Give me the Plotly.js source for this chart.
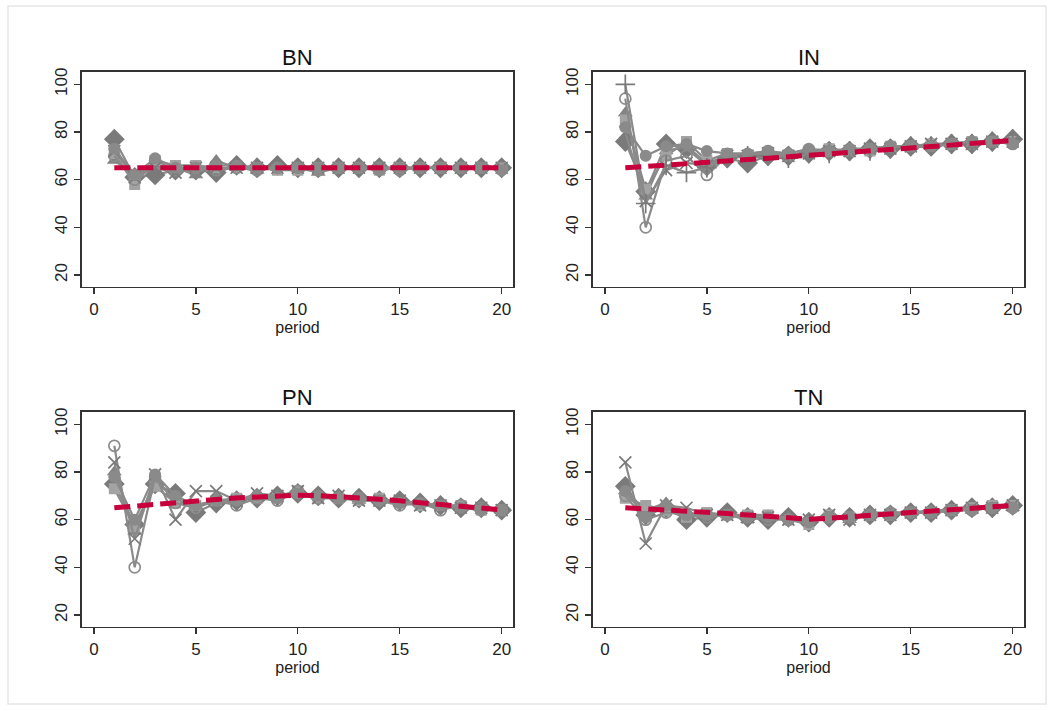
<!DOCTYPE html>
<html>
<head>
<meta charset="utf-8">
<script src="https://cdn.plot.ly/plotly-3.0.1.min.js"></script>
<style>html,body{margin:0;padding:0;background:#fff;}#chart{width:1053px;height:711px;}</style>
</head>
<body>
<div id="chart"></div>
<script>
const periods = [1,2,3,4,5,6,7,8,9,10,11,12,13,14,15,16,17,18,19,20];
const panelNames = ["BN", "IN", "PN", "TN"];

// BN
const bnDiamond  = [77, 61, 62, 64, 64, 63, 66, 65, 66, 65, 65, 65, 65, 65, 65, 65, 65, 65, 65, 65];
const bnTriangle = [68, 62, 66, 65, 62, 68, 65, 64, 65, 65, 63, 65, 65, 65, 65, 65, 65, 65, 65, 65];
const bnSquare   = [71, 58, 68, 66, 66, 65, 65, 65, 64, 64, 65, 65, 65, 64, 65, 65, 65, 65, 65, 65];
const bnCircleO  = [70, 60, 68, 64, 65, 64, 65, 64, 65, 65, 64, 65, 65, 65, 64, 65, 65, 65, 65, 65];
const bnX        = [72, 61, 65, 63, 65, 65, 65, 65, 65, 65, 65, 65, 65, 65, 65, 65, 65, 65, 65, 65];
const bnCircle   = [73, 62, 69, 65, 65, 66, 66, 65, 65, 65, 65, 65, 65, 64, 65, 65, 65, 65, 65, 64];
const bnPred     = [65, 65, 65, 65, 65, 65, 65, 65, 65, 65, 65, 65, 65, 65, 65, 65, 65, 65, 65, 65];

// IN
const inDiamond  = [76, 55, 75, 73, 66, 69, 67, 70, 70, 71, 72, 72, 73, 73, 74, 74, 75, 75, 76, 77];
const inTriangle = [88, 53, 72, 74, 67, 70, 69, 70, 70, 72, 72, 72, 73, 73, 74, 74, 75, 76, 76, 77];
const inSquare   = [85, 56, 70, 76, 68, 71, 70, 71, 70, 72, 73, 72, 72, 74, 74, 75, 75, 76, 76, 76];
const inCircleO  = [94, 40, 68, 70, 62, 70, 70, 72, 70, 72, 72, 72, 73, 74, 74, 74, 75, 75, 76, 75];
const inX        = [80, 51, 64, 67, 66, 70, 70, 71, 70, 71, 72, 72, 73, 73, 74, 75, 75, 75, 76, 76];
const inPlus     = [100, 50, 66, 63, 65, 69, 70, 70, 69, 71, 71, 72, 72, 73, 74, 74, 75, 75, 76, 77];
const inCircle   = [82, 70, 74, 75, 72, 71, 71, 72, 71, 73, 72, 73, 73, 74, 74, 74, 75, 76, 76, 75];
const inPred     = [65.0, 65.5, 66.0, 66.5, 67.2, 67.8, 68.4, 69.0, 69.6, 70.3, 70.9, 71.5, 72.1, 72.7, 73.3, 73.9, 74.5, 75.1, 75.8, 76.5];

// PN
const pnDiamond  = [75, 58, 75, 71, 63, 67, 68, 69, 70, 71, 70, 69, 69, 68, 68, 67, 66, 65, 65, 64];
const pnTriangle = [80, 55, 77, 68, 66, 68, 68, 70, 70, 71, 70, 70, 68, 68, 67, 67, 66, 65, 65, 64];
const pnSquare   = [73, 57, 74, 67, 66, 68, 69, 69, 69, 72, 69, 69, 68, 69, 67, 66, 66, 66, 64, 64];
const pnCircleO  = [91, 40, 78, 67, 65, 68, 66, 69, 68, 72, 69, 69, 69, 68, 66, 67, 64, 66, 65, 64];
const pnX        = [84, 52, 79, 60, 72, 72, 68, 71, 70, 72, 69, 70, 68, 68, 68, 66, 66, 65, 65, 64];
const pnCircle   = [78, 60, 79, 70, 66, 68, 68, 70, 69, 71, 70, 69, 69, 68, 67, 67, 66, 65, 64, 64];
const pnPred     = [65.0, 65.8, 66.5, 67.2, 67.9, 68.5, 69.1, 69.6, 70.0, 70.3, 70.1, 69.7, 69.2, 68.6, 67.9, 67.2, 66.5, 65.7, 64.9, 64.1];

// TN
const tnDiamond  = [74, 62, 65, 60, 61, 63, 61, 60, 61, 59, 61, 61, 62, 62, 63, 63, 64, 65, 65, 66];
const tnTriangle = [72, 64, 67, 63, 62, 62, 60, 61, 61, 59, 62, 60, 63, 63, 63, 64, 64, 64, 65, 65];
const tnSquare   = [69, 66, 64, 61, 63, 62, 62, 62, 60, 58, 62, 61, 62, 62, 63, 63, 64, 65, 66, 66];
const tnCircleO  = [70, 60, 63, 62, 61, 62, 61, 60, 60, 59, 61, 61, 62, 63, 63, 63, 64, 64, 65, 65];
const tnX        = [84, 50, 66, 65, 62, 62, 61, 61, 60, 60, 62, 60, 62, 62, 63, 63, 64, 65, 65, 66];
const tnCircle   = [72, 61, 66, 62, 62, 62, 61, 61, 60, 59, 61, 61, 62, 62, 63, 63, 64, 64, 65, 65];
const tnPred     = [65.0, 64.6, 64.2, 63.7, 63.2, 62.6, 62.0, 61.3, 60.7, 60.2, 60.6, 61.2, 61.8, 62.4, 63.0, 63.6, 64.2, 64.8, 65.4, 66.0];

const xTicks = [0, 5, 10, 15, 20];
const yTicks = [20, 40, 60, 80, 100];

const styles = {
  diamond:  {symbol: "diamond", size: 16, color: "#7a7a7a"},
  triangle: {symbol: "triangle-up", size: 13, color: "#838383"},
  square:   {symbol: "square", size: 11, color: "#a3a3a3"},
  circleO:  {symbol: "circle-open", size: 11, color: "#8c8c8c"},
  x:        {symbol: "x-thin-open", size: 12, color: "#7a7a7a"},
  plus:     {symbol: "cross-thin-open", size: 14, color: "#7a7a7a"},
  circle:   {symbol: "circle", size: 12, color: "#8a8a8a"}
};

const panels = [
  {series: {diamond: bnDiamond, triangle: bnTriangle, square: bnSquare, circleO: bnCircleO, x: bnX, circle: bnCircle}, pred: bnPred},
  {series: {diamond: inDiamond, triangle: inTriangle, square: inSquare, circleO: inCircleO, x: inX, plus: inPlus, circle: inCircle}, pred: inPred},
  {series: {diamond: pnDiamond, triangle: pnTriangle, square: pnSquare, circleO: pnCircleO, x: pnX, circle: pnCircle}, pred: pnPred},
  {series: {diamond: tnDiamond, triangle: tnTriangle, square: tnSquare, circleO: tnCircleO, x: tnX, circle: tnCircle}, pred: tnPred}
];

const W = 1053, H = 711;
const xDomains = [[81.7/W, 513.3/W], [592.7/W, 1024.3/W]];
const yDomains = [[1 - 286.7/H, 1 - 71.7/H], [1 - 626.7/H, 1 - 411.7/H]];

const traces = [];
const layout = {
  width: W, height: H,
  margin: {l: 0, r: 0, t: 0, b: 0},
  paper_bgcolor: "#ffffff",
  plot_bgcolor: "#ffffff",
  showlegend: false,
  font: {family: "Liberation Sans, Arial, sans-serif", color: "#222222", size: 16},
  annotations: [],
  shapes: [{type: "rect", xref: "paper", yref: "paper", x0: 8/W, x1: 1046/W, y0: 1 - 704/H, y1: 1 - 6/H,
            line: {color: "#e6e6e6", width: 1.5}, layer: "below"}]
};

panels.forEach((p, i) => {
  const n = i + 1;
  const xa = n === 1 ? "x" : "x" + n;
  const ya = n === 1 ? "y" : "y" + n;
  const col = i % 2, row = Math.floor(i / 2);
  Object.keys(p.series).forEach(k => {
    const s = styles[k];
    const open = k === "circleO" || k === "x" || k === "plus";
    traces.push({
      x: periods, y: p.series[k], xaxis: xa, yaxis: ya,
      type: "scatter", mode: "lines+markers",
      line: {color: "#8a8a8a", width: 2.2},
      marker: {symbol: s.symbol, size: s.size, color: s.color,
               line: {color: s.color, width: open ? 1.7 : 0}},
      hoverinfo: "skip"
    });
  });
  traces.push({
    x: periods, y: p.pred, xaxis: xa, yaxis: ya,
    type: "scatter", mode: "lines",
    line: {color: "#c8003c", width: 5, dash: "16px,7px"},
    hoverinfo: "skip"
  });
  const axName = n === 1 ? "" : String(n);
  layout["xaxis" + axName] = {
    domain: xDomains[col], anchor: ya, range: [-0.6, 20.57],
    tickvals: xTicks, ticks: "outside", ticklen: 6, tickwidth: 1.3, tickcolor: "#333",
    showline: true, mirror: true, linecolor: "#333333", linewidth: 1.5,
    showgrid: false, zeroline: false,
    tickfont: {size: 17, color: "#222"},
    title: {text: "period", font: {size: 16, color: "#222"}, standoff: 1}
  };
  layout["yaxis" + axName] = {
    domain: yDomains[row], anchor: xa, range: [15.1, 105.3],
    tickvals: yTicks, ticks: "outside", ticklen: 6, tickwidth: 1.3, tickcolor: "#333",
    tickangle: -90,
    showline: true, mirror: true, linecolor: "#333333", linewidth: 1.5,
    showgrid: false, zeroline: false,
    tickfont: {size: 17, color: "#222"}
  };
  layout.annotations.push({
    text: panelNames[i], xref: "paper", yref: "paper",
    x: (xDomains[col][0] + xDomains[col][1]) / 2,
    y: yDomains[row][1] + 14/H, yanchor: "middle", xanchor: "center",
    showarrow: false, font: {size: 22, color: "#111"}
  });
});

Plotly.newPlot("chart", traces, layout, {staticPlot: true, displayModeBar: false});
</script>
</body>
</html>
